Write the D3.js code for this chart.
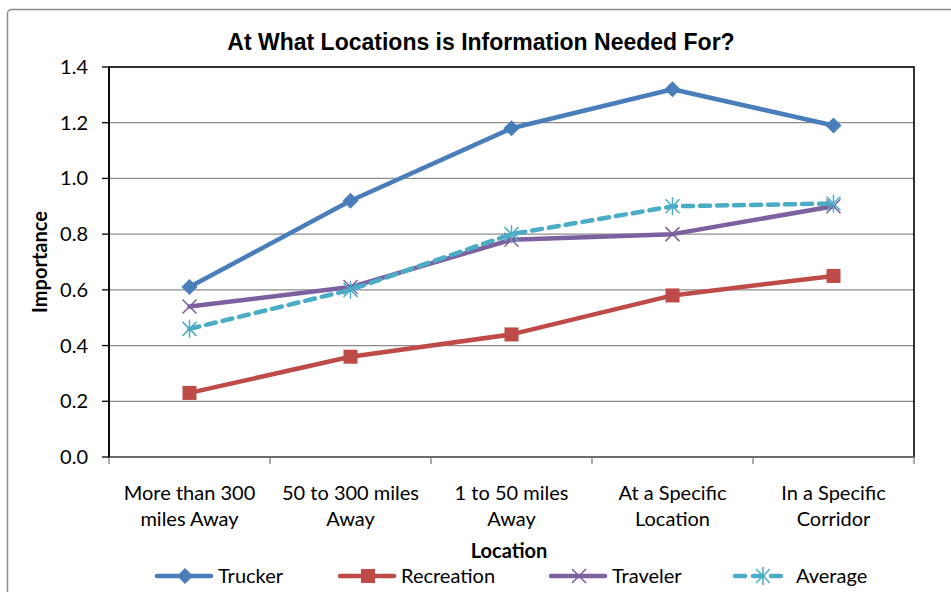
<!DOCTYPE html>
<html>
<head>
<meta charset="utf-8">
<script src="https://cdn.jsdelivr.net/npm/d3@7"></script>
<style>
  body { margin: 0; background: #fff; }
  text { font-family: Lato, "Open Sans", sans-serif; fill: #000; }
</style>
</head>
<body>
<div id="myChart"></div>
<script>
// categories and series
let locations = [
    ['More than 300', 'miles Away'],
    ['50 to 300 miles', 'Away'],
    ['1 to 50 miles', 'Away'],
    ['At a Specific', 'Location'],
    ['In a Specific', 'Corridor'],
];
let trucker = [0.61, 0.92, 1.18, 1.32, 1.19];
let recreation = [0.23, 0.36, 0.44, 0.58, 0.65];
let traveler = [0.54, 0.61, 0.78, 0.80, 0.90];
let average = [0.46, 0.60, 0.80, 0.90, 0.91];
let yTicks = [0, 0.2, 0.4, 0.6, 0.8, 1.0, 1.2, 1.4];

let series = [
    { name: 'Trucker', values: trucker, color: '#4a7ebb', marker: 'diamond', dash: null },
    { name: 'Recreation', values: recreation, color: '#be4b48', marker: 'square', dash: null },
    { name: 'Traveler', values: traveler, color: '#7d60a0', marker: 'x', dash: null },
    { name: 'Average', values: average, color: '#4bacc6', marker: 'star', dash: '10,7' },
];

let W = 951, H = 592;
let margin = { top: 67, right: 37, bottom: 135, left: 109 };
let width = W - margin.left - margin.right;
let height = H - margin.top - margin.bottom;

let root = d3.select('#myChart').append('svg').attr('width', W).attr('height', H);

// outer chart frame
root.append('rect')
    .attr('x', 7.5).attr('y', 9.5)
    .attr('width', 960).attr('height', 600)
    .attr('rx', 4)
    .attr('fill', '#fff')
    .attr('stroke', '#8c8c8c')
    .attr('stroke-width', 1.5);

root.append('text')
    .attr('x', 481).attr('y', 50)
    .style('text-anchor', 'middle')
    .style('font-family', '"Liberation Sans", Arial, sans-serif')
    .style('font-weight', 'bold')
    .style('font-size', '23px')
    .text('At What Locations is Information Needed For?');

let svg = root.append('g')
    .attr('transform', 'translate(' + margin.left + ',' + margin.top + ')');

let x = d3.scaleBand().domain(d3.range(locations.length)).range([0, width]);
let y = d3.scaleLinear().domain([0, 1.4]).range([height, 0]);

// gridlines
svg.selectAll('.grid')
    .data(yTicks.slice(1, -1))
    .enter()
    .append('line')
    .attr('x1', 0).attr('x2', width)
    .attr('y1', (d) => y(d)).attr('y2', (d) => y(d))
    .attr('stroke', '#8c8c8c')
    .attr('stroke-width', 1.3);

// plot border
svg.append('rect')
    .attr('x', 0).attr('y', 0)
    .attr('width', width).attr('height', height)
    .attr('fill', 'none')
    .attr('stroke', '#000')
    .attr('stroke-width', 1.6);

// x axis
let xAxis = svg.append('g')
    .attr('transform', 'translate(0,' + height + ')');
xAxis.append('line')
    .attr('x1', 0).attr('x2', width)
    .attr('stroke', '#808080').attr('stroke-width', 1.6);
xAxis.selectAll('.xtick')
    .data(d3.range(locations.length + 1))
    .enter()
    .append('line')
    .attr('x1', (d) => d * x.bandwidth()).attr('x2', (d) => d * x.bandwidth())
    .attr('y1', 0).attr('y2', 7)
    .attr('stroke', '#808080').attr('stroke-width', 1.3);
xAxis.selectAll('.xlabel')
    .data(locations)
    .enter()
    .append('text')
    .attr('x', (d, i) => x(i) + x.bandwidth() / 2)
    .attr('y', 43)
    .style('text-anchor', 'middle')
    .style('font-size', '20px')
    .each(function (d) {
        let t = d3.select(this);
        d.forEach((line, j) => {
            t.append('tspan')
                .attr('x', t.attr('x'))
                .attr('dy', j === 0 ? 0 : 26)
                .text(line);
        });
    });

// y axis
let yAxis = svg.append('g');
yAxis.append('line')
    .attr('y1', 0).attr('y2', height)
    .attr('stroke', '#000').attr('stroke-width', 1.6);
yAxis.selectAll('.ytick')
    .data(yTicks)
    .enter()
    .append('line')
    .attr('x1', -7).attr('x2', 0)
    .attr('y1', (d) => y(d)).attr('y2', (d) => y(d))
    .attr('stroke', '#000').attr('stroke-width', 1.3);
yAxis.selectAll('.ylabel')
    .data(yTicks)
    .enter()
    .append('text')
    .attr('x', -21)
    .attr('y', (d) => y(d))
    .attr('dy', '0.35em')
    .style('text-anchor', 'end')
    .style('font-size', '20px')
    .text((d) => d.toFixed(1));

root.append('text')
    .attr('transform', 'translate(47,' + (margin.top + height / 2) + ') rotate(-90)')
    .style('text-anchor', 'middle')
    .style('font-weight', 'bold')
    .style('font-size', '20px')
    .text('Importance');

root.append('text')
    .attr('x', 509).attr('y', 558)
    .style('text-anchor', 'middle')
    .style('font-weight', 'bold')
    .style('font-size', '20px')
    .text('Location');

function drawMarker(g, type, color, cx, cy) {
    if (type === 'diamond') {
        g.append('path')
            .attr('d', 'M' + cx + ',' + (cy - 8) + 'L' + (cx + 8) + ',' + cy + 'L' + cx + ',' + (cy + 8) + 'L' + (cx - 8) + ',' + cy + 'Z')
            .attr('fill', color);
    } else if (type === 'square') {
        g.append('rect')
            .attr('x', cx - 7).attr('y', cy - 7)
            .attr('width', 14).attr('height', 14)
            .attr('fill', color);
    } else if (type === 'x') {
        g.append('path')
            .attr('d', 'M' + (cx - 7) + ',' + (cy - 7) + 'L' + (cx + 7) + ',' + (cy + 7) + 'M' + (cx - 7) + ',' + (cy + 7) + 'L' + (cx + 7) + ',' + (cy - 7))
            .attr('stroke', color).attr('stroke-width', 1.5);
    } else {
        g.append('path')
            .attr('d', 'M' + (cx - 7) + ',' + (cy - 7) + 'L' + (cx + 7) + ',' + (cy + 7) + 'M' + (cx - 7) + ',' + (cy + 7) + 'L' + (cx + 7) + ',' + (cy - 7) + 'M' + cx + ',' + (cy - 9) + 'L' + cx + ',' + (cy + 9))
            .attr('stroke', color).attr('stroke-width', 1.5);
    }
}

let line = d3.line()
    .x((d, i) => x(i) + x.bandwidth() / 2)
    .y((d) => y(d));

series.forEach((s) => {
    svg.append('path')
        .datum(s.values)
        .attr('d', line)
        .attr('fill', 'none')
        .attr('stroke', s.color)
        .attr('stroke-width', 4.5)
        .attr('stroke-linejoin', 'round')
        .attr('stroke-linecap', 'round')
        .attr('stroke-dasharray', s.dash);
    let mg = svg.append('g');
    s.values.forEach((v, i) => {
        drawMarker(mg, s.marker, s.color, x(i) + x.bandwidth() / 2, y(v));
    });
});

// legend
let legendX = [157, 340, 551, 735];
let legend = root.append('g').attr('transform', 'translate(0,576)');
series.forEach((s, i) => {
    let lx = legendX[i];
    legend.append('line')
        .attr('x1', lx).attr('x2', lx + 54)
        .attr('stroke', s.color)
        .attr('stroke-width', 4.5)
        .attr('stroke-linecap', 'round')
        .attr('stroke-dasharray', s.dash ? '10,8' : null);
    drawMarker(legend, s.marker, s.color, lx + 28, 0);
    legend.append('text')
        .attr('x', lx + 61)
        .attr('y', 0)
        .attr('dy', '0.35em')
        .style('font-size', '20px')
        .text(s.name);
});
</script>
</body>
</html>
